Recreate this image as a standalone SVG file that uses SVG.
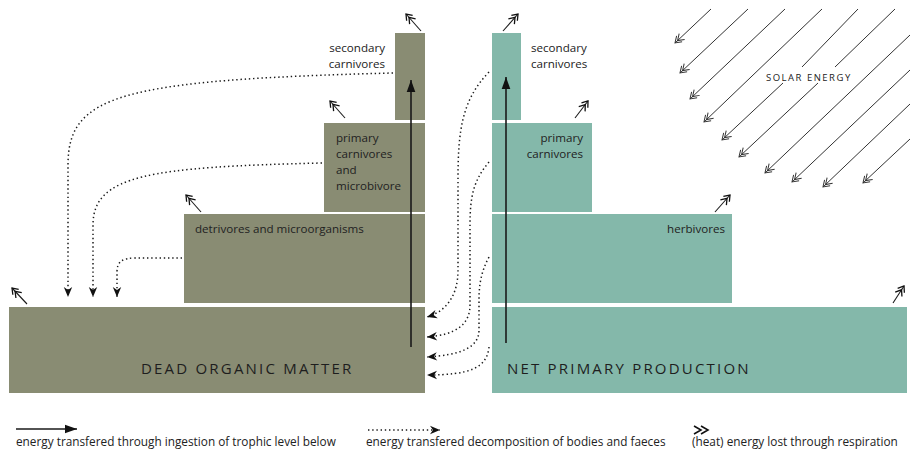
<svg xmlns="http://www.w3.org/2000/svg" width="910" height="461" viewBox="0 0 910 461">
  <defs>
    <style>
      .olive { fill: #898c73; }
      .teal { fill: #84b8aa; }
      .lbl { font-family: "Open Sans", "Noto Sans", sans-serif; font-size: 11.6px; fill: #222; }
      .big { font-family: "Open Sans", "Noto Sans", sans-serif; font-size: 15px; fill: #1e1e1e; letter-spacing: 2.2px; }
      .sun { font-family: "Open Sans", "Noto Sans", sans-serif; font-size: 9.5px; fill: #222; letter-spacing: 1.5px; }
      .leg { font-family: "Open Sans", "Noto Sans", sans-serif; font-size: 11.8px; fill: #222; }
      .solid { fill: none; stroke: #1a1a1a; stroke-width: 1.6; }
      .dots { fill: none; stroke: #1a1a1a; stroke-width: 1.5; stroke-dasharray: 1.4 2.8; }
      .heat { fill: none; stroke: #1a1a1a; stroke-width: 1.1; }
      .ray { fill: none; stroke: #333; stroke-width: 1; }
    </style>
    <marker id="headSolid" markerUnits="userSpaceOnUse" viewBox="-13 -5 14 10" refX="0" refY="0" markerWidth="14" markerHeight="10" orient="auto">
      <path d="M0,0 L-12,-4.3 L-12,4.3 Z" fill="#111"/>
    </marker>
    <marker id="headDot" markerUnits="userSpaceOnUse" viewBox="-11 -5 12 10" refX="0" refY="0" markerWidth="12" markerHeight="10" orient="auto">
      <path d="M0,0 L-10,-4.2 L-7,0 L-10,4.2 Z" fill="#111"/>
    </marker>
    <marker id="headHeat" markerUnits="userSpaceOnUse" viewBox="-12 -6 13 12" refX="0" refY="0" markerWidth="13" markerHeight="12" orient="auto">
      <path d="M-5.5,-4 L0,0 L-5.5,4 M-10,-4 L-4.5,0 L-10,4" fill="none" stroke="#111" stroke-width="1.3"/>
    </marker>
    <marker id="headRay" markerUnits="userSpaceOnUse" viewBox="-12 -6 13 12" refX="0" refY="0" markerWidth="13" markerHeight="12" orient="auto">
      <path d="M-6,-4 L0,0 L-6,4 M-9.5,-4 L-3.5,0 L-9.5,4" fill="none" stroke="#333" stroke-width="1"/>
    </marker>
  </defs>

  <rect width="910" height="461" fill="#fff"/>

  <!-- detritus pyramid -->
  <g id="dead-organic-matter">
    <rect class="olive" x="9" y="307" width="416" height="86"/>
    <text class="big" x="141" y="374">DEAD ORGANIC MATTER</text>
  </g>
  <g id="detrivores">
    <rect class="olive" x="184" y="214" width="241" height="89"/>
    <text class="lbl" x="195" y="233">detrivores and microorganisms</text>
  </g>
  <g id="primary-carnivores-left">
    <rect class="olive" x="324" y="123" width="101" height="89"/>
    <text class="lbl" x="336" y="142">primary</text>
    <text class="lbl" x="336" y="158">carnivores</text>
    <text class="lbl" x="336" y="174">and</text>
    <text class="lbl" x="336" y="190">microbivore</text>
  </g>
  <g id="secondary-carnivores-left">
    <rect class="olive" x="395" y="33" width="30" height="87"/>
    <text class="lbl" x="385" y="52" text-anchor="end">secondary</text>
    <text class="lbl" x="385" y="68" text-anchor="end">carnivores</text>
  </g>

  <!-- grazing pyramid -->
  <g id="net-primary-production">
    <rect class="teal" x="492" y="307" width="415" height="86"/>
    <text class="big" x="507" y="374">NET PRIMARY PRODUCTION</text>
  </g>
  <g id="herbivores">
    <rect class="teal" x="492" y="214" width="240" height="89"/>
    <text class="lbl" x="725" y="233" text-anchor="end">herbivores</text>
  </g>
  <g id="primary-carnivores-right">
    <rect class="teal" x="492" y="123" width="100" height="89"/>
    <text class="lbl" x="583" y="142" text-anchor="end">primary</text>
    <text class="lbl" x="583" y="158" text-anchor="end">carnivores</text>
  </g>
  <g id="secondary-carnivores-right">
    <rect class="teal" x="492" y="33" width="29" height="87"/>
    <text class="lbl" x="531" y="52">secondary</text>
    <text class="lbl" x="531" y="68">carnivores</text>
  </g>

  <!-- sunlight -->
  <g id="solar-energy">
    <path class="ray" marker-end="url(#headRay)" d="M711,9 L675,43"/>
    <path class="ray" marker-end="url(#headRay)" d="M748,9 L680,73"/>
    <path class="ray" marker-end="url(#headRay)" d="M785,9 L690,99"/>
    <path class="ray" marker-end="url(#headRay)" d="M822,9 L704,122"/>
    <path class="ray" d="M858,9 L802,67"/>
    <path class="ray" marker-end="url(#headRay)" d="M783,83 L722,140"/>
    <path class="ray" d="M895,9 L835,67"/>
    <path class="ray" marker-end="url(#headRay)" d="M818,83 L739,157"/>
    <path class="ray" marker-end="url(#headRay)" d="M910,35 L765,173"/>
    <path class="ray" marker-end="url(#headRay)" d="M910,70 L792,182"/>
    <path class="ray" marker-end="url(#headRay)" d="M910,104 L823,187"/>
    <path class="ray" marker-end="url(#headRay)" d="M910,139 L863,183"/>
    <text class="sun" x="766" y="81">SOLAR ENERGY</text>
  </g>

  <g id="connectors">
    <!-- ingestion -->
    <path class="solid" marker-end="url(#headSolid)" d="M411,347 L411,80"/>
    <path class="solid" marker-end="url(#headSolid)" d="M506,343 L506,77"/>

    <!-- decomposition into dead organic matter -->
    <path class="dots" marker-end="url(#headDot)" d="M393,73 C120,80 68,95 68,165 L68,297"/>
    <path class="dots" marker-end="url(#headDot)" d="M322,163 C150,167 93,175 93,225 L93,297"/>
    <path class="dots" marker-end="url(#headDot)" d="M182,258 L135,258 C122,258 117,262 117,272 L117,297"/>
    <path class="dots" marker-end="url(#headDot)" d="M489,72 C462,100 458,130 458,180 L458,270 C458,295 447,311 427,317"/>
    <path class="dots" marker-end="url(#headDot)" d="M489,162 C474,180 470,195 470,225 L470,305 C470,325 455,335 427,337"/>
    <path class="dots" marker-end="url(#headDot)" d="M489,257 C481,272 479,285 479,300 L479,330 C479,348 460,355 427,357"/>
    <path class="dots" marker-end="url(#headDot)" d="M489,347 C487,368 470,375 427,375"/>

    <!-- respiration losses -->
    <path class="heat" marker-end="url(#headHeat)" d="M421,31 L406,14"/>
    <path class="heat" marker-end="url(#headHeat)" d="M345,118 L330,101"/>
    <path class="heat" marker-end="url(#headHeat)" d="M201,212 L186,195"/>
    <path class="heat" marker-end="url(#headHeat)" d="M27,304 L12,288"/>
    <path class="heat" marker-end="url(#headHeat)" d="M503,31 L518,14"/>
    <path class="heat" marker-end="url(#headHeat)" d="M575,118 L588,101"/>
    <path class="heat" marker-end="url(#headHeat)" d="M715,212 L730,195"/>
    <path class="heat" marker-end="url(#headHeat)" d="M893,303 L904,286"/>
  </g>

  <!-- key -->
  <g id="legend">
    <path class="solid" marker-end="url(#headSolid)" d="M16,429 L77,429"/>
    <text class="leg" x="16" y="446">energy transfered through ingestion of trophic level below</text>
    <path class="dots" marker-end="url(#headDot)" d="M368,430 L440,430"/>
    <text class="leg" x="366" y="446">energy transfered decomposition of bodies and faeces</text>
    <path d="M694,426 L701,430 L694,434 M701,426 L708,430 L701,434" fill="none" stroke="#111" stroke-width="1.6"/>
    <text class="leg" x="692" y="446">(heat) energy lost through respiration</text>
  </g>
</svg>
